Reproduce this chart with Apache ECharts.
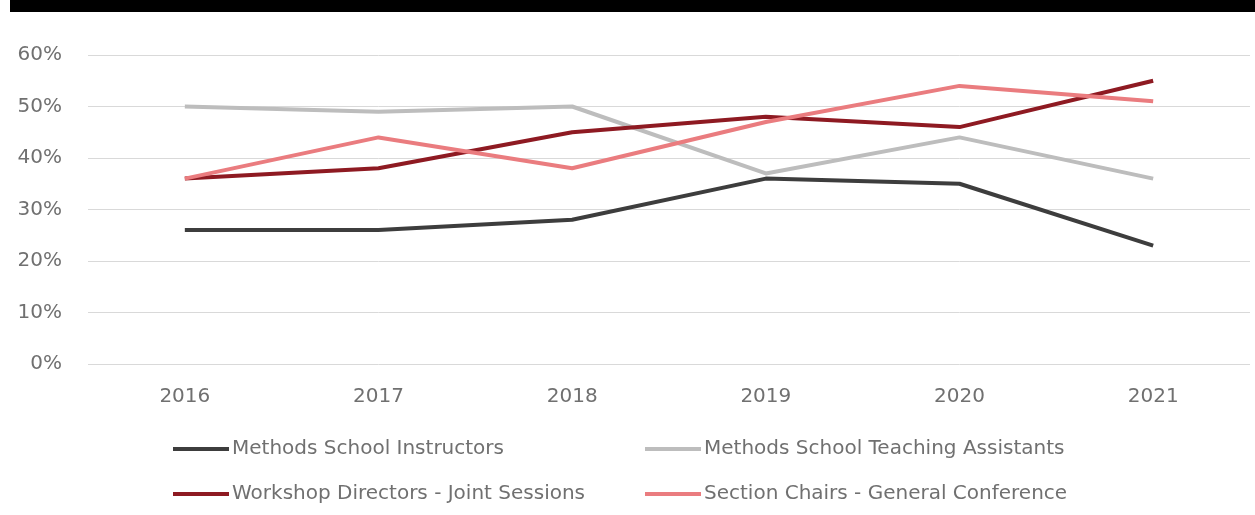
<!DOCTYPE html>
<html>
<head>
<meta charset="utf-8">
<script src="https://cdn.jsdelivr.net/npm/echarts@6/dist/echarts.min.js"></script>
<style>
  html, body { margin: 0; padding: 0; background: #ffffff; }
  #chart { width: 1255px; height: 515px; }
</style>
</head>
<body>
<div id="chart"></div>
<script>
// Participation shares by year, in percent
const years = ['2016', '2017', '2018', '2019', '2020', '2021'];
const yTicks = [0, 10, 20, 30, 40, 50, 60];

const instructors      = [26, 26, 28, 36, 35, 23];
const teachingAssist   = [50, 49, 50, 37, 44, 36];
const workshopDirs     = [36, 38, 45, 48, 46, 55];
const sectionChairs    = [36, 44, 38, 47, 54, 51];

const seriesNames = [
  'Methods School Instructors',
  'Methods School Teaching Assistants',
  'Workshop Directors - Joint Sessions',
  'Section Chairs - General Conference'
];
const seriesData = [instructors, teachingAssist, workshopDirs, sectionChairs];
const colors = ['#3d3d3d', '#bdbdbd', '#8e1a22', '#ea7c7f'];

const FONT = 'DejaVu Sans';
const TEXT_COLOR = '#707070';

const chart = echarts.init(document.getElementById('chart'), null, { renderer: 'canvas' });

// One legend block per entry so the two columns line up
const legendPos = [
  { left: 173, top: 439 },
  { left: 645, top: 439 },
  { left: 173, top: 484 },
  { left: 645, top: 484 }
];
const legends = seriesNames.map((name, i) => ({
  data: [name],
  left: legendPos[i].left,
  top: legendPos[i].top,
  icon: 'rect',
  itemWidth: 56,
  itemHeight: 4,
  padding: 0,
  textStyle: { fontFamily: FONT, fontSize: 20, color: TEXT_COLOR, padding: [0, 0, 0, -2] },
  selectedMode: false
}));

chart.setOption({
  animation: false,
  backgroundColor: '#ffffff',
  color: colors,
  graphic: [{
    type: 'rect',
    shape: { x: 10, y: 0, width: 1245, height: 12 },
    style: { fill: '#000000' },
    silent: true
  }],
  legend: legends,
  grid: { left: 88, right: 5, top: 55, bottom: 151, containLabel: false },
  xAxis: {
    type: 'category',
    data: years,
    boundaryGap: true,
    axisLine: { show: false },
    axisTick: { show: false },
    axisLabel: { fontFamily: FONT, fontSize: 20, color: TEXT_COLOR, margin: 23 }
  },
  yAxis: {
    type: 'value',
    min: yTicks[0],
    max: yTicks[yTicks.length - 1],
    interval: yTicks[1] - yTicks[0],
    axisLine: { show: false },
    axisTick: { show: false },
    splitLine: { lineStyle: { color: '#d9d9d9', width: 1 } },
    axisLabel: { fontFamily: FONT, fontSize: 20, color: TEXT_COLOR, margin: 26, formatter: '{value}%' }
  },
  series: seriesNames.map((name, i) => ({
    name: name,
    type: 'line',
    data: seriesData[i],
    symbol: 'none',
    lineStyle: { width: 4, color: colors[i], join: 'round' },
    itemStyle: { color: colors[i] },
    z: 2
  }))
});
</script>
</body>
</html>
